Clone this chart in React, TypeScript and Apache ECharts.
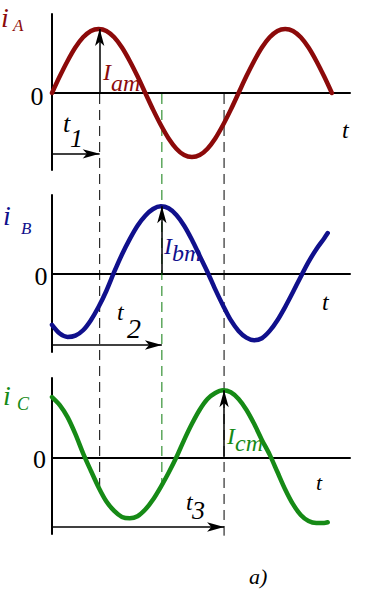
import React, { useEffect, useRef } from "react";
import * as echarts from "echarts";

// phase angle (degrees) sample points
const anglesA = [0,15,30,45,60,75,90,105,120,135,150,165,180,195,210,225,240,255,270,285,300,315,330,345,360,375,390,405,420,435,450,465,480,495,510,525,540];
const valuesA = [0,0.26,0.5,0.71,0.87,0.97,1,0.97,0.87,0.71,0.5,0.26,0,-0.26,-0.5,-0.71,-0.87,-0.97,-1,-0.97,-0.87,-0.71,-0.5,-0.26,0,0.26,0.5,0.71,0.87,0.97,1,0.97,0.87,0.71,0.5,0.26,0];
const anglesBC = [0,15,30,45,60,75,90,105,120,135,150,165,180,195,210,225,240,255,270,285,300,315,330,345,360,375,390,405,420,435,450,465,480,495,510,525,532];
const valuesB = [-0.77,-0.9,-0.95,-0.93,-0.85,-0.7,-0.5,-0.26,0.02,0.28,0.51,0.71,0.86,0.96,1.0,0.97,0.87,0.71,0.5,0.26,0.02,-0.24,-0.48,-0.7,-0.86,-0.96,-1.0,-0.97,-0.86,-0.7,-0.5,-0.28,-0.05,0.17,0.36,0.52,0.6];
const valuesC = [0.9,0.78,0.6,0.35,0.06,-0.2,-0.45,-0.66,-0.8,-0.89,-0.91,-0.88,-0.78,-0.63,-0.44,-0.23,0.0,0.26,0.5,0.71,0.87,0.96,1.0,0.97,0.87,0.71,0.5,0.26,0.04,-0.22,-0.48,-0.7,-0.86,-0.95,-0.98,-0.98,-0.97];

// time markers t1, t2, t3 (degrees) and their arrow levels
const tMarks = [92, 212, 332];
const tArrowLevels = [-0.95, -1.07, -1.04];
const dashEndsC = [-0.44, -0.42, -1.17];

const colA = "#8c0a0a";
const colB = "#10108c";
const colC = "#168a16";
const SERIF = '"Liberation Serif", "Times New Roman", serif';

export default function App() {
  const ref = useRef<HTMLDivElement>(null);
  useEffect(() => {
    document.body.style.margin = "0";
    const chart = echarts.init(ref.current!, null, { renderer: "svg" });
    const grids = [
      { left: 52, width: 298, top: 14, height: 156 },
      { left: 52, width: 298, top: 195, height: 157 },
      { left: 52, width: 298, top: 378, height: 156 },
    ];
    const yRanges = [
      [-1.203, 1.234],
      [-1.175, 1.169],
      [-1.145, 1.184],
    ];
    const axisLine = { show: true, onZero: true, lineStyle: { color: "#000", width: 2 } };
    const xAxis = grids.map((_, i) => ({
      type: "value", gridIndex: i, min: 0, max: 575,
      axisLine, axisTick: { show: false }, axisLabel: { show: false }, splitLine: { show: false },
    }));
    const yAxis = grids.map((_, i) => ({
      type: "value", gridIndex: i, min: yRanges[i][0], max: yRanges[i][1],
      axisLine: { show: true, onZero: false, lineStyle: { color: "#000", width: 2 } },
      axisTick: { show: false }, axisLabel: { show: false }, splitLine: { show: false },
    }));
    const sets = [
      { a: anglesA, v: valuesA, c: colA },
      { a: anglesBC, v: valuesB, c: colB },
      { a: anglesBC, v: valuesC, c: colC },
    ];
    const series = sets.map((s, i) => ({
      type: "line", xAxisIndex: i, yAxisIndex: i,
      data: s.a.map((x, k) => [x, s.v[k]]),
      smooth: 0.3, showSymbol: false, symbol: "none", silent: true, z: 3,
      lineStyle: { color: s.c, width: 4.5, cap: "round", join: "round" },
      markLine: {
        silent: true, animation: false,
        symbol: ["none", "arrow"], symbolSize: [7, 17],
        label: { show: false },
        lineStyle: { color: "#000", width: 1.5, type: "solid" },
        itemStyle: { color: "#000" },
        emphasis: { disabled: true },
        data: [
          [{ coord: [tMarks[i], 0] }, { coord: [tMarks[i], 1] }],
          [{ coord: [0, tArrowLevels[i]] }, { coord: [tMarks[i], tArrowLevels[i]] }],
        ],
      },
    }));
    chart.setOption({
      animation: false,
      grid: grids,
      xAxis, yAxis, series,
    });

    const px = (g: number, x: number, y: number) =>
      chart.convertToPixel({ gridIndex: g } as any, [x, y]) as number[];

    const dashColors = ["#000", "#0a7a0a", "#000"];
    const lines = tMarks.map((t, i) => {
      const top = px(0, t, 0);
      const bot = px(2, t, dashEndsC[i]);
      return {
        type: "line", z: 1, silent: true,
        shape: { x1: top[0], y1: top[1] + 1, x2: bot[0], y2: bot[1] },
        style: { stroke: dashColors[i], lineWidth: 1, lineDash: [10, 6] },
      };
    });

    const T = (text: string, x: number, y: number, size: number, color: string, italic = true, align = "left") => ({
      type: "text", x, y, z: 10, silent: true,
      style: {
        text, fill: color, font: `${italic ? "italic " : ""}${size}px ${SERIF}`,
        textAlign: align, textVerticalAlign: "middle",
      },
    });

    // amplitude label: capital I with a lowered subscript in one rich text
    const amp = (sub: string, x: number, y: number, lh: number, color: string) => ({
      type: "text", x, y, z: 10, silent: true,
      style: {
        text: `{I|I}{s|${sub}}`,
        textAlign: "left", textVerticalAlign: "top",
        rich: {
          I: { fontFamily: SERIF, fontStyle: "italic", fontSize: 24, lineHeight: lh, verticalAlign: "top", fill: color, color },
          s: { fontFamily: SERIF, fontStyle: "italic", fontSize: 24, verticalAlign: "bottom", fill: color, color },
        },
      },
    });

    const texts = [
      // phase A
      T("i", 1, 17.5, 28, colA), T("A", 13, 25, 17, colA),
      T("0", 37, 96, 26, "#000", false, "center"),
      amp("am", 103, 60, 35, colA),
      T("t", 63, 123, 26, "#000"), T("1", 70, 138, 26, "#000"),
      T("t", 342, 130, 24, "#000"),
      // phase B
      T("i", 3, 215.5, 28, colB), T("B", 21, 228.5, 17, colB),
      T("0", 41, 276, 26, "#000", false, "center"),
      amp("bm", 164, 234, 31, colB),
      T("t", 117, 312, 24, "#000"), T("2", 127, 328, 28, "#000"),
      T("t", 322, 302, 24, "#000"),
      // phase C
      T("i", 3, 395.5, 28, colC), T("C", 17, 403.5, 18, colC),
      T("0", 39.5, 459, 26, "#000", false, "center"),
      amp("cm", 227, 424, 31, colC),
      T("t", 186, 502, 24, "#000"), T("3", 192, 510, 26, "#000"),
      T("t", 316, 482.5, 22, "#000"),
      T("a)", 249, 576, 22, "#000"),
    ];

    chart.setOption({ graphic: [...lines, ...texts] });
    return () => chart.dispose();
  }, []);
  return (
    <div
      ref={ref}
      style={{ position: "fixed", left: 0, top: 0, width: 375, height: 589, background: "#fff" }}
    />
  );
}
